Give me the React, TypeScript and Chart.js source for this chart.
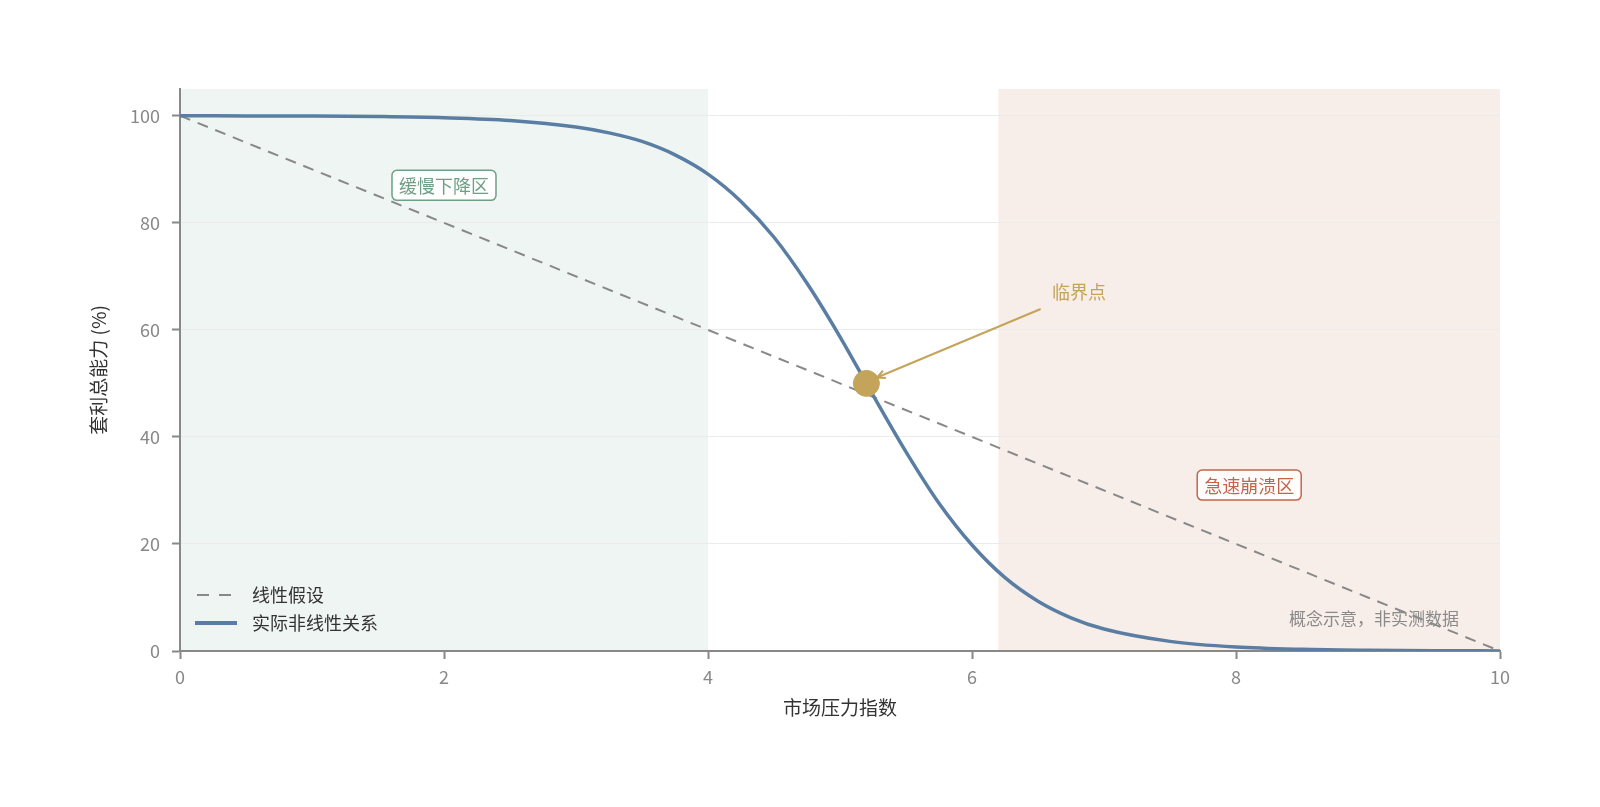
import { useEffect, useRef } from 'react';
import { Chart, registerables } from 'chart.js';

Chart.register(...registerables);

const FONT = '"Noto Sans CJK SC", "Noto Sans", sans-serif';

// 市场压力指数 (x) 与 套利总能力 (y)
const pressureX = [0, 0.5, 1, 1.5, 2, 2.5, 3, 3.25, 3.5, 3.75, 4, 4.25, 4.5, 4.75, 5, 5.25, 5.5, 5.75, 6, 6.25, 6.5, 6.75, 7, 7.5, 8, 8.5, 9, 9.5, 10];
const capacity = [100, 99.97, 99.94, 99.85, 99.63, 99.12, 97.9, 96.8, 95.2, 92.7, 89.1, 84.0, 77.3, 68.7, 58.7, 47.8, 37.2, 27.6, 19.8, 13.7, 9.3, 6.2, 4.1, 1.8, 0.74, 0.31, 0.13, 0.05, 0.02];

const linearX = [0, 10];
const linearY = [100, 0];

const criticalPoint = { x: 5.2, y: 50 };

const slowZone = { from: 0, to: 4, label: '缓慢下降区', labelX: 2, labelY: 87 };
const crashZone = { from: 6.2, to: 10, label: '急速崩溃区', labelX: 8.1, labelY: 31 };

const calloutText = { x: 6.81, y: 67, text: '临界点' };
const calloutArrow = { fromX: 6.52, fromY: 63.9, toX: 5.28, toY: 51.1 };

const legendItems = ['线性假设', '实际非线性关系'];
const footnote = '概念示意，非实测数据';

const BLUE = '#5a7ea3';
const GOLD = '#c4a35a';
const GREEN = '#6e9f87';
const RED = '#c4644e';

const zonePlugin = {
    id: 'zones',
    beforeDraw(chart: any) {
        const { ctx, chartArea, scales } = chart;
        const xs = scales.x;
        ctx.save();
        ctx.fillStyle = '#eff5f2';
        ctx.fillRect(xs.getPixelForValue(slowZone.from), chartArea.top, xs.getPixelForValue(slowZone.to) - xs.getPixelForValue(slowZone.from), chartArea.bottom - chartArea.top);
        ctx.fillStyle = '#f8eee9';
        ctx.fillRect(xs.getPixelForValue(crashZone.from), chartArea.top, xs.getPixelForValue(crashZone.to) - xs.getPixelForValue(crashZone.from), chartArea.bottom - chartArea.top);
        ctx.restore();
    },
};

function drawTag(ctx: CanvasRenderingContext2D, text: string, cx: number, cy: number, color: string) {
    ctx.font = `18px ${FONT}`;
    const w = ctx.measureText(text).width + 14;
    const h = 30;
    ctx.beginPath();
    ctx.roundRect(cx - w / 2, cy - h / 2, w, h, 5);
    ctx.fillStyle = 'rgba(255,255,255,0.85)';
    ctx.fill();
    ctx.strokeStyle = color;
    ctx.lineWidth = 1.5;
    ctx.stroke();
    ctx.fillStyle = color;
    ctx.textAlign = 'center';
    ctx.textBaseline = 'middle';
    ctx.fillText(text, cx, cy + 1);
}

const notesPlugin = {
    id: 'notes',
    afterDatasetsDraw(chart: any) {
        const { ctx, chartArea, scales } = chart;
        const px = (v: number) => scales.x.getPixelForValue(v);
        const py = (v: number) => scales.y.getPixelForValue(v);
        ctx.save();

        drawTag(ctx, slowZone.label, px(slowZone.labelX), py(slowZone.labelY), GREEN);
        drawTag(ctx, crashZone.label, px(crashZone.labelX), py(crashZone.labelY), RED);

        // 临界点 callout
        const x1 = px(calloutArrow.fromX), y1 = py(calloutArrow.fromY);
        const x2 = px(calloutArrow.toX), y2 = py(calloutArrow.toY);
        ctx.strokeStyle = GOLD;
        ctx.lineWidth = 2;
        ctx.beginPath();
        ctx.moveTo(x1, y1);
        ctx.lineTo(x2, y2);
        ctx.stroke();
        const ang = Math.atan2(y2 - y1, x2 - x1);
        ctx.beginPath();
        ctx.moveTo(x2 - 9 * Math.cos(ang - 0.45), y2 - 9 * Math.sin(ang - 0.45));
        ctx.lineTo(x2, y2);
        ctx.lineTo(x2 - 9 * Math.cos(ang + 0.45), y2 - 9 * Math.sin(ang + 0.45));
        ctx.stroke();
        ctx.font = `18px ${FONT}`;
        ctx.fillStyle = GOLD;
        ctx.textAlign = 'center';
        ctx.textBaseline = 'middle';
        ctx.fillText(calloutText.text, px(calloutText.x), py(calloutText.y));

        // footnote
        ctx.font = `17px ${FONT}`;
        ctx.fillStyle = '#8a8a8a';
        ctx.textAlign = 'right';
        ctx.fillText(footnote, chartArea.right - 41, chartArea.bottom - 32);

        // legend
        const lx = chartArea.left + 17;
        const ly1 = chartArea.bottom - 56;
        const ly2 = chartArea.bottom - 28;
        ctx.strokeStyle = '#888';
        ctx.lineWidth = 2;
        ctx.setLineDash([12, 10]);
        ctx.beginPath();
        ctx.moveTo(lx, ly1);
        ctx.lineTo(lx + 35, ly1);
        ctx.stroke();
        ctx.setLineDash([]);
        ctx.strokeStyle = BLUE;
        ctx.lineWidth = 4;
        ctx.beginPath();
        ctx.moveTo(lx - 2, ly2);
        ctx.lineTo(lx + 40, ly2);
        ctx.stroke();
        ctx.font = `18px ${FONT}`;
        ctx.fillStyle = '#333';
        ctx.textAlign = 'left';
        ctx.fillText(legendItems[0], lx + 55, ly1);
        ctx.fillText(legendItems[1], lx + 55, ly2);

        ctx.restore();
    },
};

export default function App() {
    const canvasRef = useRef<HTMLCanvasElement>(null);

    useEffect(() => {
        document.body.style.margin = '0';
        if (!canvasRef.current) return;

        const chart = new Chart(canvasRef.current, {
            type: 'line',
            data: {
                datasets: [
                    {
                        label: legendItems[0],
                        data: linearX.map((x, i) => ({ x, y: linearY[i] })),
                        borderColor: '#888',
                        borderWidth: 2,
                        borderDash: [11, 8],
                        pointRadius: 0,
                        fill: false,
                        order: 3,
                    },
                    {
                        label: legendItems[1],
                        data: pressureX.map((x, i) => ({ x, y: capacity[i] })),
                        borderColor: BLUE,
                        borderWidth: 3.5,
                        pointRadius: 0,
                        cubicInterpolationMode: 'monotone',
                        fill: false,
                        order: 2,
                    },
                    {
                        type: 'scatter',
                        label: '临界点',
                        data: [criticalPoint],
                        backgroundColor: GOLD,
                        borderColor: GOLD,
                        pointRadius: 13,
                        order: 1,
                    } as any,
                ],
            },
            options: {
                animation: false,
                responsive: true,
                maintainAspectRatio: false,
                layout: { padding: { left: 0, right: 100, top: 89, bottom: 88 } },
                plugins: {
                    legend: { display: false },
                    tooltip: { enabled: false },
                },
                scales: {
                    x: {
                        type: 'linear',
                        min: 0,
                        max: 10,
                        ticks: { stepSize: 2, color: '#888', font: { family: FONT, size: 18 }, padding: 7 },
                        grid: { drawOnChartArea: false, tickLength: 8, tickColor: '#888', tickWidth: 2 },
                        border: { color: '#888', width: 2 },
                        title: { display: true, text: '市场压力指数', color: '#333', font: { family: FONT, size: 19 }, padding: { top: 0, bottom: 0 } },
                        afterFit: (s: any) => { s.height = 68; },
                    },
                    y: {
                        min: 0,
                        max: 105,
                        ticks: { stepSize: 20, color: '#888', font: { family: FONT, size: 18 }, padding: 12 },
                        afterBuildTicks: (s: any) => { s.ticks = s.ticks.filter((t: any) => t.value % 20 === 0); },
                        grid: { color: '#ebebeb', lineWidth: 1, tickLength: 8, tickColor: '#888', tickWidth: 2 },
                        border: { color: '#888', width: 2 },
                        title: { display: true, text: '套利总能力 (%)', color: '#333', font: { family: FONT, size: 19 }, padding: { top: 87, bottom: 0 } },
                        afterFit: (s: any) => { s.width = 180; },
                    },
                },
            },
            plugins: [zonePlugin, notesPlugin],
        });

        return () => { chart.destroy(); };
    }, []);

    return (
        <div style={{ width: 1600, height: 807, position: 'relative', background: '#fff' }}>
            <canvas ref={canvasRef}></canvas>
        </div>
    );
}
